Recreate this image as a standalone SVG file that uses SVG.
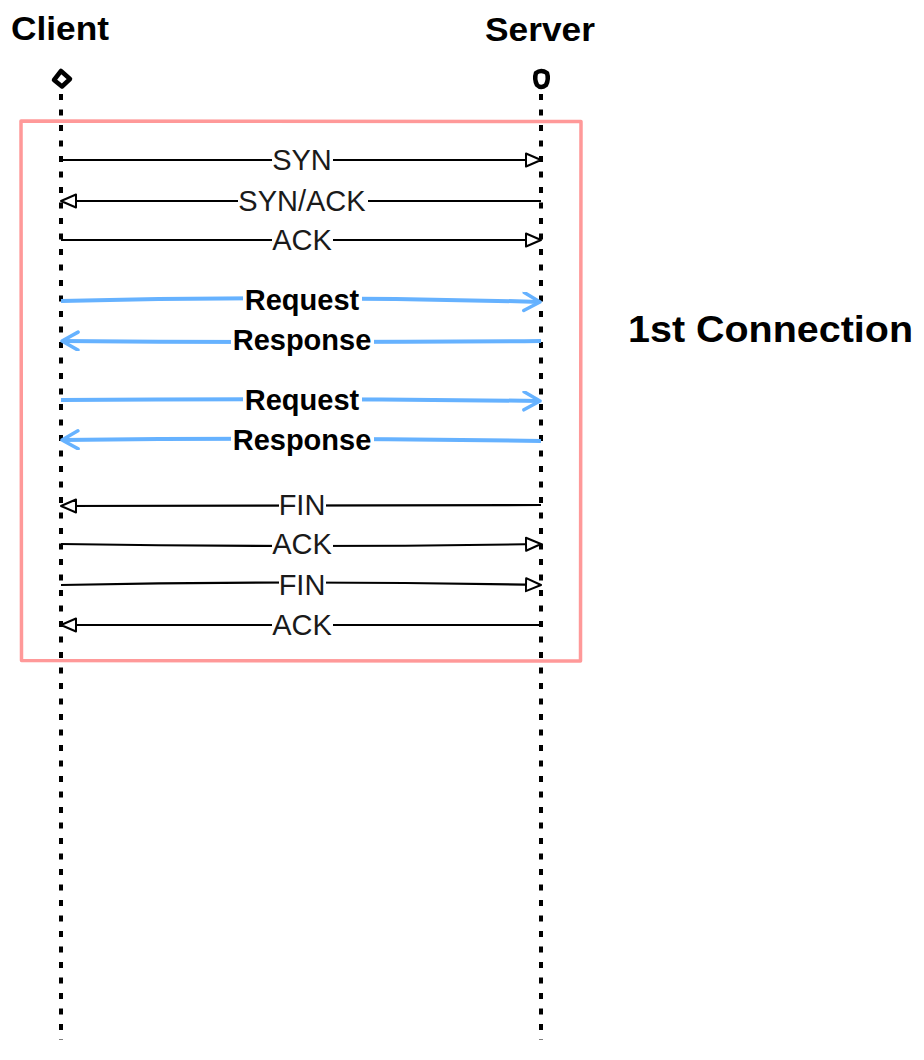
<svg xmlns="http://www.w3.org/2000/svg" width="924" height="1060" viewBox="0 0 924 1060">
<style>
.hdr{font-family:"Liberation Sans",Arial,sans-serif;font-weight:bold;fill:#000}
.lbl{font-family:"Liberation Sans",Arial,sans-serif;font-size:29px;fill:#1a1a1a;text-anchor:middle}
.lblb{font-family:"Liberation Sans",Arial,sans-serif;font-size:29px;font-weight:bold;fill:#000;text-anchor:middle}
.life{stroke:#000;stroke-width:4;stroke-dasharray:6 9.5;fill:none}
.blk{stroke:#000;stroke-width:2.2;fill:none;marker-end:url(#openTri)}
.blu{stroke:#66B2FF;stroke-width:4;fill:none;marker-end:url(#openBlue)}
.bg{fill:#fff}
</style>
<defs>
<marker id="openTri" markerUnits="userSpaceOnUse" markerWidth="20" markerHeight="18" refX="16" refY="8" orient="auto" viewBox="0 0 20 18">
<path d="M1,1.5 L16,8 L1,14.5 Z" fill="#fff" stroke="#000" stroke-width="2" stroke-linejoin="round"/>
</marker>
<marker id="openBlue" markerUnits="userSpaceOnUse" markerWidth="22" markerHeight="22" refX="18" refY="10" orient="auto" viewBox="0 0 22 22">
<path d="M2,1 L18,10 L2,19" fill="none" stroke="#66B2FF" stroke-width="3.5" stroke-linecap="round" stroke-linejoin="round"/>
</marker>
</defs>
<rect width="924" height="1060" fill="#fff"/>

<g id="connection-box">
<path d="M21,121 L581,121.5 L580.5,661 L21.5,660.5 Z" fill="none" stroke="#FF9999" stroke-width="3.5" stroke-linejoin="round"/>
<text class="hdr" x="628" y="342" font-size="37" textLength="285" lengthAdjust="spacingAndGlyphs">1st Connection</text>
</g>

<g id="client">
<text class="hdr" x="11" y="40" font-size="33" textLength="98" lengthAdjust="spacingAndGlyphs">Client</text>
<path class="life" d="M61,94 L61,1040"/>
<path d="M61,71 L70,79 L62,86.5 L54,80 Z" fill="#fff" stroke="#000" stroke-width="4.5" stroke-linejoin="round"/>
</g>

<g id="server">
<text class="hdr" x="485" y="41" font-size="33" textLength="110" lengthAdjust="spacingAndGlyphs">Server</text>
<path class="life" d="M541,94 L541,1040"/>
<path d="M536,73 Q541,69 547,73 Q549,79 546,85 Q541,89 537,85 Q534,79 536,73 Z" fill="#fff" stroke="#000" stroke-width="4.5" stroke-linejoin="round"/>
</g>

<g id="connectors">
<path class="blk" d="M61,160 L541,160"/>
<path class="blk" d="M541,201 L61,201"/>
<path class="blk" d="M61,240 L541,240"/>
<path class="blu" d="M61,301 Q300,295 540,302"/>
<path class="blu" d="M541,341 Q300,343 62,341"/>
<path class="blu" d="M61,400 Q300,398 540,401"/>
<path class="blu" d="M541,441 Q300,437 62,440"/>
<path class="blk" d="M541,505 L61,506"/>
<path class="blk" d="M61,544 Q300,548 541,544"/>
<path class="blk" d="M61,585 Q300,580 541,585"/>
<path class="blk" d="M541,625 L61,625"/>

<rect class="bg" x="272" y="148" width="61" height="24"/>
<text class="lbl" x="302" y="170">SYN</text>
<rect class="bg" x="238" y="189" width="130" height="24"/>
<text class="lbl" x="302" y="211">SYN/ACK</text>
<rect class="bg" x="272" y="228" width="61" height="24"/>
<text class="lbl" x="302" y="250">ACK</text>

<rect class="bg" x="243" y="287" width="119" height="28"/>
<text class="lblb" x="302" y="310">Request</text>
<rect class="bg" x="231" y="328" width="143" height="28"/>
<text class="lblb" x="302" y="350">Response</text>
<rect class="bg" x="243" y="387" width="119" height="28"/>
<text class="lblb" x="302" y="410">Request</text>
<rect class="bg" x="231" y="427" width="143" height="28"/>
<text class="lblb" x="302" y="450">Response</text>

<rect class="bg" x="279" y="493" width="47" height="24"/>
<text class="lbl" x="302" y="515">FIN</text>
<rect class="bg" x="272" y="532" width="61" height="24"/>
<text class="lbl" x="302" y="554">ACK</text>
<rect class="bg" x="279" y="573" width="47" height="24"/>
<text class="lbl" x="302" y="595">FIN</text>
<rect class="bg" x="272" y="613" width="61" height="24"/>
<text class="lbl" x="302" y="635">ACK</text>
</g>
</svg>
